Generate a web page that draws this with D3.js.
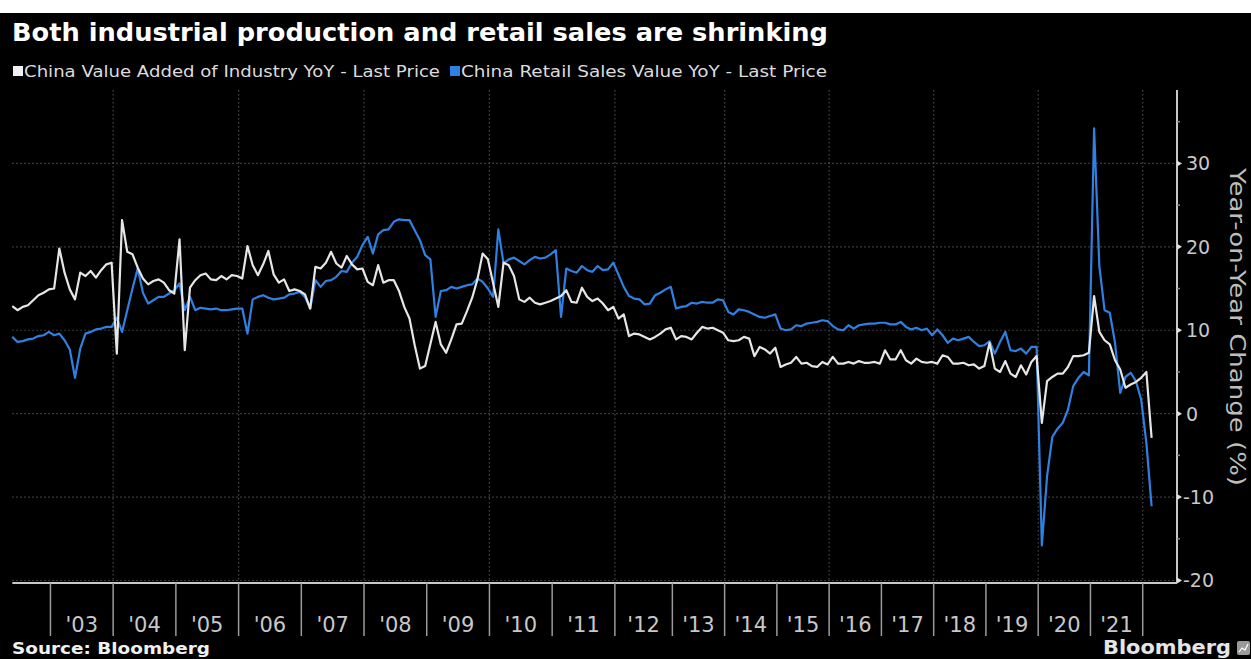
<!DOCTYPE html>
<html><head><meta charset="utf-8">
<script src="https://cdn.jsdelivr.net/npm/d3@7"></script>
<style>html,body{margin:0;padding:0;background:#fff;}svg{display:block}</style>
</head><body>
<svg id="chart" width="1251" height="659"></svg>
<script>
// ---- data (monthly points; months absent from the Bloomberg series are skipped on the axis) ----
const months = [
"2002-05","2002-06","2002-07","2002-08","2002-09","2002-10","2002-11","2002-12",
"2003-01","2003-02","2003-03","2003-04","2003-05","2003-06","2003-07","2003-08","2003-09","2003-10","2003-11","2003-12",
"2004-01","2004-02","2004-03","2004-04","2004-05","2004-06","2004-07","2004-08","2004-09","2004-10","2004-11","2004-12",
"2005-01","2005-02","2005-03","2005-04","2005-05","2005-06","2005-07","2005-08","2005-09","2005-10","2005-11","2005-12",
"2006-01","2006-02","2006-03","2006-04","2006-05","2006-06","2006-07","2006-08","2006-09","2006-10","2006-11","2006-12",
"2007-01","2007-02","2007-03","2007-04","2007-05","2007-06","2007-07","2007-08","2007-09","2007-10","2007-11","2007-12",
"2008-01","2008-02","2008-03","2008-04","2008-05","2008-06","2008-07","2008-08","2008-09","2008-10","2008-11","2008-12",
"2009-01","2009-02","2009-03","2009-04","2009-05","2009-06","2009-07","2009-08","2009-09","2009-10","2009-11","2009-12",
"2010-01","2010-02","2010-03","2010-04","2010-05","2010-06","2010-07","2010-08","2010-09","2010-10","2010-11","2010-12",
"2011-01","2011-02","2011-03","2011-04","2011-05","2011-06","2011-07","2011-08","2011-09","2011-10","2011-11","2011-12",
"2012-02","2012-03","2012-04","2012-05","2012-06","2012-07","2012-08","2012-09","2012-10","2012-11","2012-12",
"2013-03","2013-04","2013-05","2013-06","2013-07","2013-08","2013-09","2013-10","2013-11","2013-12",
"2014-03","2014-04","2014-05","2014-06","2014-07","2014-08","2014-09","2014-10","2014-11","2014-12",
"2015-03","2015-04","2015-05","2015-06","2015-07","2015-08","2015-09","2015-10","2015-11","2015-12",
"2016-03","2016-04","2016-05","2016-06","2016-07","2016-08","2016-09","2016-10","2016-11","2016-12",
"2017-03","2017-04","2017-05","2017-06","2017-07","2017-08","2017-09","2017-10","2017-11","2017-12",
"2018-03","2018-04","2018-05","2018-06","2018-07","2018-08","2018-09","2018-10","2018-11","2018-12",
"2019-03","2019-04","2019-05","2019-06","2019-07","2019-08","2019-09","2019-10","2019-11","2019-12",
"2020-03","2020-04","2020-05","2020-06","2020-07","2020-08","2020-09","2020-10","2020-11","2020-12",
"2021-03","2021-04","2021-05","2021-06","2021-07","2021-08","2021-09","2021-10","2021-11","2021-12",
"2022-03","2022-04"
];

const industryYoY = [
12.9,12.4,12.8,13.0,13.6,14.2,14.5,14.9,
15.0,19.8,16.9,14.9,13.7,16.9,16.5,17.1,16.3,17.2,17.9,18.1,
7.2,23.2,19.4,19.1,17.5,16.2,15.5,15.9,16.1,15.7,14.8,14.4,
20.9,7.6,15.1,16.0,16.6,16.8,16.1,16.0,16.5,16.1,16.6,16.5,
16.2,20.1,17.8,16.6,17.9,19.5,16.7,15.7,16.1,14.7,14.9,14.7,
14.3,12.6,17.6,17.4,18.1,19.4,18.0,17.5,18.9,17.9,17.3,17.4,
15.8,15.4,17.8,15.7,16.0,16.0,14.7,12.8,11.4,8.2,5.4,5.7,
null,11.0,8.3,7.3,8.9,10.7,10.8,12.3,13.9,16.1,19.2,18.5,
null,12.8,18.1,17.8,16.5,13.7,13.4,13.9,13.3,13.1,13.3,13.5,
null,14.1,14.8,13.4,13.3,15.1,14.0,13.5,13.8,13.2,12.4,12.8,
11.4,11.9,9.3,9.6,9.5,9.2,8.9,9.2,9.6,10.1,10.3,
8.9,9.3,9.2,8.9,9.7,10.4,10.2,10.3,10.0,9.7,
8.8,8.7,8.8,9.2,9.0,6.9,8.0,7.7,7.2,7.9,
5.6,5.9,6.1,6.8,6.0,6.1,5.7,5.6,6.2,5.9,
6.8,6.0,6.0,6.2,6.0,6.3,6.1,6.1,6.2,6.0,
7.6,6.5,6.5,7.6,6.4,6.0,6.6,6.2,6.1,6.2,
6.0,7.0,6.8,6.0,6.0,6.1,5.8,5.9,5.4,5.7,
8.5,5.4,5.0,6.3,4.8,4.4,5.8,4.7,6.2,6.9,
-1.1,3.9,4.4,4.8,4.8,5.6,6.9,6.9,7.0,7.3,
14.1,9.8,8.8,8.3,6.4,5.3,3.1,3.5,3.8,4.3,
5.0,-2.9
];

const retailYoY = [
9.2,8.6,8.7,8.9,9.0,9.3,9.4,9.8,
9.4,9.6,8.8,7.7,4.3,7.8,9.6,9.8,10.1,10.2,10.4,10.4,
11.5,9.8,12.4,15.0,17.4,14.5,13.2,13.6,14.0,14.0,14.4,14.8,
15.6,12.4,14.0,12.4,12.7,12.6,12.5,12.6,12.4,12.4,12.5,12.6,
12.6,9.6,13.7,14.0,14.2,13.9,13.7,13.8,13.9,14.3,14.4,14.6,
14.0,12.6,16.0,15.2,15.9,16.0,16.4,17.1,17.0,18.1,18.8,20.2,
21.2,19.2,21.5,22.0,22.1,23.0,23.3,23.2,23.2,22.0,20.8,19.0,
18.5,11.6,14.7,14.8,15.2,15.0,15.2,15.4,15.5,16.2,15.8,15.0,
14.0,22.1,18.0,18.5,18.7,18.3,17.9,18.4,18.8,18.6,18.7,19.1,
19.6,11.6,17.4,17.1,16.9,17.7,17.2,17.0,17.7,17.2,17.3,18.1,
null,15.2,14.1,13.8,13.7,13.1,13.2,14.2,14.5,14.9,15.2,
12.6,12.8,12.9,13.3,13.2,13.4,13.3,13.3,13.7,13.6,
12.2,11.9,12.5,12.4,12.2,11.9,11.6,11.5,11.7,11.9,
10.2,10.0,10.1,10.6,10.5,10.8,10.9,11.0,11.2,11.1,
10.5,10.1,10.0,10.6,10.2,10.6,10.7,10.8,10.8,10.9,
10.9,10.7,10.7,11.0,10.4,10.1,10.3,10.0,10.2,9.4,
10.1,9.4,8.5,9.0,8.8,9.0,9.2,8.6,8.1,8.2,
8.7,7.2,8.6,9.8,7.6,7.5,7.8,7.2,8.0,8.0,
-15.8,-7.5,-2.8,-1.8,-1.1,0.5,3.3,4.3,5.0,4.6,
34.2,17.7,12.4,12.1,8.5,2.5,4.4,4.9,3.9,1.7,
-3.5,-11.1
];

const yearLabels = ["'03","'04","'05","'06","'07","'08","'09","'10","'11","'12","'13","'14","'15","'16","'17","'18","'19","'20","'21"];
const labelYears = [2003,2004,2005,2006,2007,2008,2009,2010,2011,2012,2013,2014,2015,2016,2017,2018,2019,2020,2021];
const boundaryYears = [2003,2004,2005,2006,2007,2008,2009,2010,2011,2012,2013,2014,2015,2016,2017,2018,2019,2020,2021,2022];
const gridYears = [2004,2006,2008,2010,2012,2014,2016,2018,2020,2022];
const yMajorTicks = [-20,-10,0,10,20,30];
const yMinorTicks = [-15,-5,5,15,25,35];

const seriesNames = ["China Value Added of Industry YoY - Last Price","China Retail Sales Value YoY - Last Price"];
const titleText = "Both industrial production and retail sales are shrinking";

// ---- drawing ----
const W = 1251, H = 659;
const FONT = "'DejaVu Sans', 'Liberation Sans', Arial, sans-serif";
const svg = d3.select("#chart");
svg.append("rect").attr("x",0).attr("y",13).attr("width",W).attr("height",H-13).attr("fill","#000");

const P = {left:12.3, right:1177, top:90, bottom:583};
const x = d3.scaleLinear().domain([0, months.length - 1 + 4.86]).range([P.left, P.right]);
const y = d3.scaleLinear().domain([-20.3, 38.8]).range([P.bottom, P.top]);

const firstIdx = yr => months.findIndex(m => +m.slice(0,4) === yr);
const boundaryX = yr => x(firstIdx(yr) - 0.7);

// gridlines
const grid = svg.append("g");
grid.selectAll("line.h").data(yMajorTicks).join("line")
  .attr("x1", P.left).attr("x2", P.right)
  .attr("y1", d => y(d)).attr("y2", d => y(d))
  .attr("stroke", "#4a4a4a").attr("stroke-width", 1.2).attr("stroke-dasharray", "1.5,2.5");
grid.selectAll("line.v").data(gridYears).join("line")
  .attr("x1", d => boundaryX(d)).attr("x2", d => boundaryX(d))
  .attr("y1", P.top).attr("y2", P.bottom)
  .attr("stroke", "#4a4a4a").attr("stroke-width", 1.2).attr("stroke-dasharray", "1.5,2.5");

// lines
const mk = arr => arr.map((v,i)=>({i, v})).filter(d => d.v !== null);
const line = d3.line().x(d => x(d.i)).y(d => y(d.v)).curve(d3.curveLinear);
svg.append("path").datum(mk(retailYoY)).attr("d", line)
  .attr("fill","none").attr("stroke","#2f80e0").attr("stroke-width",2.2).attr("stroke-linejoin","round");
svg.append("path").datum(mk(industryYoY)).attr("d", line)
  .attr("fill","none").attr("stroke","#e6e6e6").attr("stroke-width",2.2).attr("stroke-linejoin","round");

// axes frame
const axisCol = "#c8c8c8";
svg.append("line").attr("x1", P.left).attr("x2", P.right).attr("y1", P.bottom).attr("y2", P.bottom)
  .attr("stroke", axisCol).attr("stroke-width", 2);
svg.append("line").attr("x1", P.right).attr("x2", P.right).attr("y1", P.top).attr("y2", P.bottom)
  .attr("stroke", axisCol).attr("stroke-width", 2);

// y ticks & labels
svg.selectAll("path.tk").data(yMajorTicks).join("path")
  .attr("d", d => `M${P.right},${y(d)-3}L${P.right+5},${y(d)}L${P.right},${y(d)+3}Z`)
  .attr("fill", "#e0e0e0");
svg.selectAll("line.mt").data(yMinorTicks).join("line")
  .attr("x1", P.right).attr("x2", P.right+3).attr("y1", d=>y(d)).attr("y2", d=>y(d))
  .attr("stroke", "#888").attr("stroke-width", 1.5);
svg.selectAll("text.yl").data(yMajorTicks).join("text")
  .attr("x", d => d < 0 ? P.right + 6 : P.right + 9).attr("y", d => y(d)).attr("dy","0.36em")
  .attr("font-family", FONT).attr("font-size", 19).attr("fill", axisCol)
  .text(d => d < 0 ? "-" + Math.abs(d) : d);

svg.append("text").attr("transform", `translate(1230,327) rotate(90)`)
  .attr("text-anchor","middle").attr("font-family", FONT).attr("font-size", 21).attr("fill", "#bdbdbd")
  .attr("textLength", 318).attr("lengthAdjust","spacingAndGlyphs")
  .text("Year-on-Year Change (%)");

// x separators & labels
svg.selectAll("line.sep").data(boundaryYears).join("line")
  .attr("x1", d => boundaryX(d)).attr("x2", d => boundaryX(d))
  .attr("y1", P.bottom).attr("y2", 636)
  .attr("stroke", "#9a9a9a").attr("stroke-width", 1.5);
svg.selectAll("text.xl").data(labelYears).join("text")
  .attr("x", (d) => (boundaryX(d) + boundaryX(d+1)) / 2).attr("y", 632)
  .attr("text-anchor","middle").attr("font-family", FONT).attr("font-size", 21).attr("fill", axisCol)
  .text((d,i) => yearLabels[i]);

// title & legend
svg.append("text").attr("x", 12).attr("y", 41).attr("font-family", FONT).attr("font-weight","bold")
  .attr("font-size", 25).attr("fill", "#fff").attr("textLength", 816).attr("lengthAdjust","spacingAndGlyphs")
  .text(titleText);
const legendCols = ["#f0f0f0", "#2f80e0"];
const legendX = [13, 450];
const legendLen = [417, 367];
legendCols.forEach((c, k) => {
  svg.append("rect").attr("x", legendX[k]).attr("y", 66).attr("width", 10).attr("height", 10).attr("fill", c);
  svg.append("text").attr("x", legendX[k] + 11).attr("y", 77).attr("font-family", FONT).attr("font-size", 15)
    .attr("fill", "#dcdcdc").attr("textLength", legendLen[k] - 1).attr("lengthAdjust","spacingAndGlyphs")
    .text(seriesNames[k]);
});

// footer
svg.append("text").attr("x", 12).attr("y", 654).attr("font-family", FONT).attr("font-weight","bold")
  .attr("font-size", 15).attr("fill", "#f0f0f0").attr("textLength", 198).attr("lengthAdjust","spacingAndGlyphs")
  .text("Source: Bloomberg");
svg.append("text").attr("x", 1103).attr("y", 654).attr("font-family", FONT).attr("font-weight","bold")
  .attr("font-size", 19).attr("fill", "#e6e6e6").attr("textLength", 128).attr("lengthAdjust","spacingAndGlyphs")
  .text("Bloomberg");
svg.append("rect").attr("x", 1237).attr("y", 641).attr("width", 13).attr("height", 14).attr("rx", 2).attr("fill", "#9a9a9a");
svg.append("path").attr("d", "M1239,652L1242,648L1245,650L1248,644").attr("fill","none").attr("stroke","#fff").attr("stroke-width",1.2);
</script>
</body></html>
